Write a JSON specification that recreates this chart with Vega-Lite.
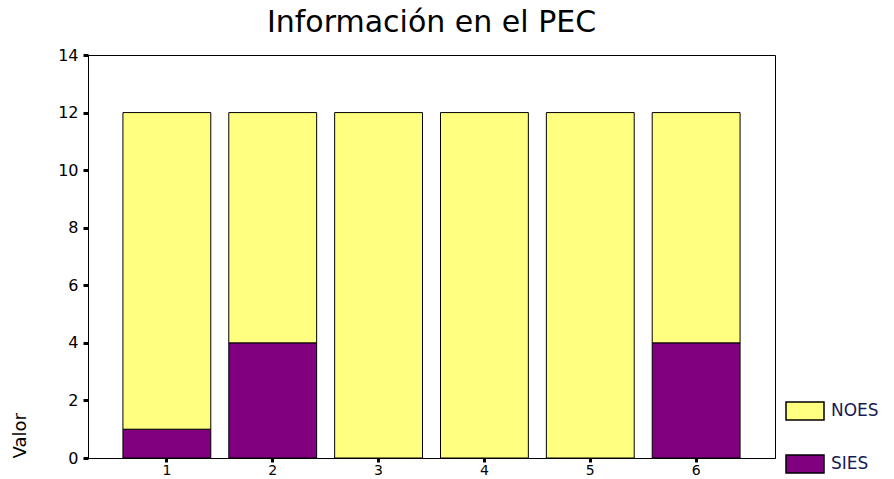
{
  "$schema": "https://vega.github.io/schema/vega-lite/v6.json",
  "autosize": "none",
  "padding": {"left": 88, "top": 55, "right": 119, "bottom": 21},
  "width": 687,
  "height": 403,
  "background": "white",
  "title": {"text": "Información en el PEC", "fontSize": 30, "font": "DejaVu Sans", "fontWeight": "normal", "color": "black", "offset": 9},
  "data": {"values": [
    {"caso": "1", "serie": "SIES", "valor": 1},
    {"caso": "1", "serie": "NOES", "valor": 11},
    {"caso": "2", "serie": "SIES", "valor": 4},
    {"caso": "2", "serie": "NOES", "valor": 8},
    {"caso": "3", "serie": "SIES", "valor": 0},
    {"caso": "3", "serie": "NOES", "valor": 12},
    {"caso": "4", "serie": "SIES", "valor": 0},
    {"caso": "4", "serie": "NOES", "valor": 12},
    {"caso": "5", "serie": "SIES", "valor": 0},
    {"caso": "5", "serie": "NOES", "valor": 12},
    {"caso": "6", "serie": "SIES", "valor": 4},
    {"caso": "6", "serie": "NOES", "valor": 8}
  ]},
  "mark": {"type": "bar", "stroke": "black", "strokeWidth": 1},
  "encoding": {
    "x": {"field": "caso", "type": "ordinal", "scale": {"paddingInner": 0.17, "paddingOuter": 0.33},
      "axis": {"title": null, "labelAngle": 0, "labelFont": "DejaVu Sans", "labelFontSize": 14, "labelColor": "black", "domainColor": "black", "tickColor": "black", "tickSize": 4, "tickWidth": 3, "labelPadding": 1}},
    "y": {"field": "valor", "type": "quantitative", "stack": "zero", "scale": {"domain": [0, 14], "nice": false},
      "axis": {"title": "Valor", "titleAnchor": "start", "titleFont": "DejaVu Sans", "titleFontSize": 18, "titleFontWeight": "normal", "titleColor": "black", "titlePadding": 28, "values": [0, 2, 4, 6, 8, 10, 12, 14], "grid": false, "labelFont": "DejaVu Sans", "labelFontSize": 16, "labelColor": "black", "domainColor": "black", "tickColor": "black", "tickSize": 5, "tickWidth": 3, "labelPadding": 5}},
    "color": {"field": "serie", "type": "nominal", "scale": {"domain": ["NOES", "SIES"], "range": ["#FFFF80", "#800080"]},
      "legend": {"title": null, "orient": "none", "legendX": 697, "legendY": 336, "symbolType": "M-1,-0.47H1V0.47H-1Z", "symbolSize": 1444, "symbolStrokeColor": "black", "symbolStrokeWidth": 1.5, "labelFont": "DejaVu Sans", "labelFontSize": 17, "labelColor": "#1a1a55", "labelOffset": 6, "rowPadding": 21}},
    "order": {"field": "serie", "sort": "descending"}
  },
  "config": {"view": {"stroke": "black", "strokeWidth": 1}}
}
